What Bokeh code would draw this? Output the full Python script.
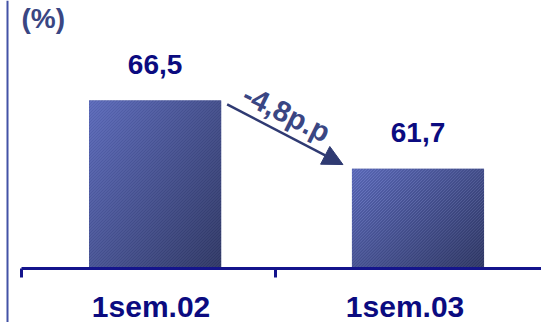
import numpy as np
from bokeh.plotting import figure
from bokeh.models import Range1d, Span, Arrow, NormalHead
from bokeh.core.properties import value
from bokeh.embed import file_html
from bokeh.resources import INLINE

# ---- data -------------------------------------------------------------
categories = ["1sem.02", "1sem.03"]
rates = [66.5, 61.7]
rate_labels = ["66,5", "61,7"]
change_label = "-4,8p.p"
unit_label = "(%)"

# ---- layout / scale ---------------------------------------------------
W, H = 541, 322
BASE = 54.7            # value sitting on the category axis
PX_PER_UNIT = 14.24    # vertical pixels per percentage point
PX_PER_CAT = 254.0     # horizontal pixels per category slot
AXIS_PX = 268          # axis line, pixels from the top
LEFT_PX = 21           # first category boundary, pixels from the left
BAR_W = 0.52
BAR_SHIFT = [0.026, 0.061]

NAVY = "#0B0B80"
SLATE = "#3A4683"


def dx(px):
    return (px - LEFT_PX) / PX_PER_CAT


def dy(px):
    return BASE + (AXIS_PX - px) / PX_PER_UNIT


p = figure(width=W, height=H, output_backend="svg", toolbar_location=None,
           x_range=Range1d(dx(0), dx(W)), y_range=Range1d(dy(H), dy(0)),
           x_axis_location=None, y_axis_location=None, min_border=0)
p.grid.visible = False
p.outline_line_color = None
p.background_fill_color = "white"
p.border_fill_color = "white"

bar_x = [i + 0.5 + s for i, s in enumerate(BAR_SHIFT)]

# solid bars
p.vbar(x=bar_x, top=rates, bottom=BASE, width=BAR_W,
       fill_color="#48559A", line_color=None)


# textured gradient fill laid over each bar
def bar_texture(w_px, h_px):
    light = np.array([92, 106, 184], dtype=float)
    dark = np.array([50, 58, 102], dtype=float)
    cols = np.arange(w_px)[None, :] / max(w_px - 1, 1)
    rows = np.arange(h_px)[:, None] / max(h_px - 1, 1)   # 0 = bottom row
    t = np.clip(0.55 * cols + 0.45 * (1 - rows), 0, 1)
    rgb = light[None, None, :] * (1 - t[..., None]) + dark[None, None, :] * t[..., None]
    ci = np.arange(w_px)[None, :]
    ri = np.arange(h_px)[:, None]
    stripe = ((ci - ri) % 3 == 0)
    rgb = rgb + np.where(stripe, 18.0, -5.0)[..., None]
    rgb = np.clip(rgb, 0, 255).astype(np.uint8)
    img = np.empty((h_px, w_px), dtype=np.uint32)
    view = img.view(dtype=np.uint8).reshape((h_px, w_px, 4))
    view[..., :3] = rgb
    view[..., 3] = 255
    return img


images, img_x, img_dw, img_dh = [], [], [], []
for x, r in zip(bar_x, rates):
    w_px = int(round(BAR_W * PX_PER_CAT))
    h_px = int(round((r - BASE) * PX_PER_UNIT))
    images.append(bar_texture(w_px, h_px))
    img_x.append(x - BAR_W / 2)
    img_dw.append(BAR_W)
    img_dh.append(r - BASE)
p.image_rgba(image=images, x=img_x, y=[BASE] * len(rates), dw=img_dw, dh=img_dh)

# value labels above bars
p.text(x=bar_x, y=rates, text=rate_labels, text_align="center",
       text_baseline="alphabetic", y_offset=-36,
       text_font=value("Liberation Sans"), text_font_style="bold",
       text_font_size="28px", text_color=NAVY)

# category axis line and ticks
p.segment(x0=[0], y0=[BASE], x1=[dx(W)], y1=[BASE],
          line_color="#14148C", line_width=3)
tick_x = [0, 1]
p.segment(x0=tick_x, y0=[BASE] * 2, x1=tick_x, y1=[dy(AXIS_PX + 9)] * 2,
          line_color="#14148C", line_width=3)

# category labels
p.text(x=[i + 0.51 for i in range(len(categories))], y=[BASE] * len(categories),
       text=categories, text_align="center", text_baseline="alphabetic",
       y_offset=38, text_font=value("Liberation Sans"), text_font_style="bold",
       text_font_size="30px", text_color=NAVY)

# left border line
p.add_layout(Span(location=dx(7), dimension="height", line_color="#4352A6",
                  line_width=2))

# unit label
p.text(x=[dx(21)], y=[dy(18)], text=[unit_label], text_align="left",
       text_baseline="alphabetic", text_font=value("Liberation Sans"),
       text_font_style="bold", text_font_size="28px", text_color=SLATE)

# change arrow between the bars
x_start = bar_x[0] + BAR_W / 2 + 6 / PX_PER_CAT
x_end = bar_x[1] - BAR_W / 2 - 9 / PX_PER_CAT
p.add_layout(Arrow(x_start=x_start, y_start=rates[0] - 0.28,
                   x_end=x_end, y_end=rates[1] + 0.3,
                   line_color="#2F3A72", line_width=2.5,
                   end=NormalHead(size=20, fill_color="#2F3A72",
                                  line_color="#2F3A72")))

p.text(x=[dx(286)], y=[dy(113)], text=[change_label], angle=-0.46,
       text_align="center", text_baseline="middle",
       text_font=value("Liberation Sans"), text_font_style="bold",
       text_font_size="29px", text_color=SLATE)

open("out.html", "w").write(file_html(p, INLINE))
